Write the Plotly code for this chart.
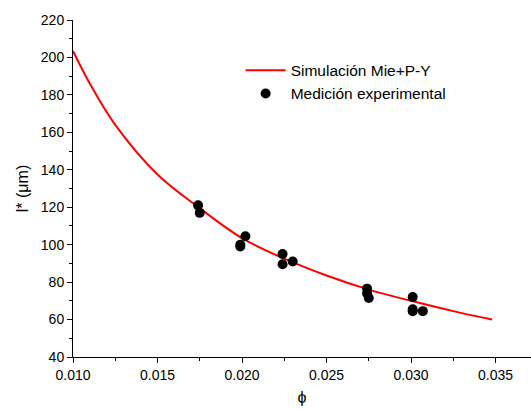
import plotly.graph_objects as go

# Simulation curve
sim_phi = [0.0100, 0.0110, 0.0125, 0.0150, 0.0175, 0.0200, 0.0225, 0.0250, 0.0275, 0.0300, 0.0325, 0.0348]
sim_l = [203.5, 186.0, 164.0, 137.5, 119.5, 103.5, 92.5, 83.5, 76.0, 70.0, 64.5, 60.0]

# Experimental measurements
exp_phi = [0.0174, 0.0175, 0.0199, 0.0199, 0.0202, 0.0224, 0.0224, 0.0230,
           0.0274, 0.0274, 0.0275, 0.0301, 0.0301, 0.0301, 0.0307]
exp_l = [121.0, 117.0, 100.0, 99.0, 104.5, 95.0, 89.5, 91.0,
         76.5, 74.0, 71.5, 72.0, 65.5, 64.5, 64.5]

fig = go.Figure()
fig.add_trace(go.Scatter(x=sim_phi, y=sim_l, mode="lines", line=dict(color="#ff0000", width=2, shape="spline", smoothing=1.0),
                         name="Simulación Mie+P-Y"))
fig.add_trace(go.Scatter(x=exp_phi, y=exp_l, mode="markers", marker=dict(color="black", size=10),
                         name="Medición experimental"))

axis_common = dict(showline=True, linecolor="black", linewidth=1, ticks="outside", ticklen=5, tickcolor="black",
                   showgrid=False, zeroline=False, mirror=False,
                   tickfont=dict(family="Liberation Sans, Arial", size=14, color="black"))

fig.update_layout(
    width=531, height=412,
    margin=dict(l=73, r=0, t=20, b=55),
    paper_bgcolor="white", plot_bgcolor="white",
    font=dict(family="Liberation Sans, Arial", color="black"),
    xaxis=dict(range=[0.010, 0.0371], dtick=0.005, tick0=0.010, tickformat=".3f",
               minor=dict(ticks="outside", ticklen=3, dtick=0.0025, tickcolor="black"),
               title=dict(text="ϕ", font=dict(size=16), standoff=10), **axis_common),
    yaxis=dict(range=[40, 220], dtick=20, tick0=40,
               minor=dict(ticks="outside", ticklen=3, dtick=10, tickcolor="black"),
               title=dict(text="l* (μm)", font=dict(size=16), standoff=8), **axis_common),
    legend=dict(x=0.366, y=0.9, xanchor="left", yanchor="top", bgcolor="rgba(0,0,0,0)",
                font=dict(size=15.5, family="Liberation Sans, Arial"), tracegroupgap=0, itemwidth=40),
)

fig.write_html("out.html")
